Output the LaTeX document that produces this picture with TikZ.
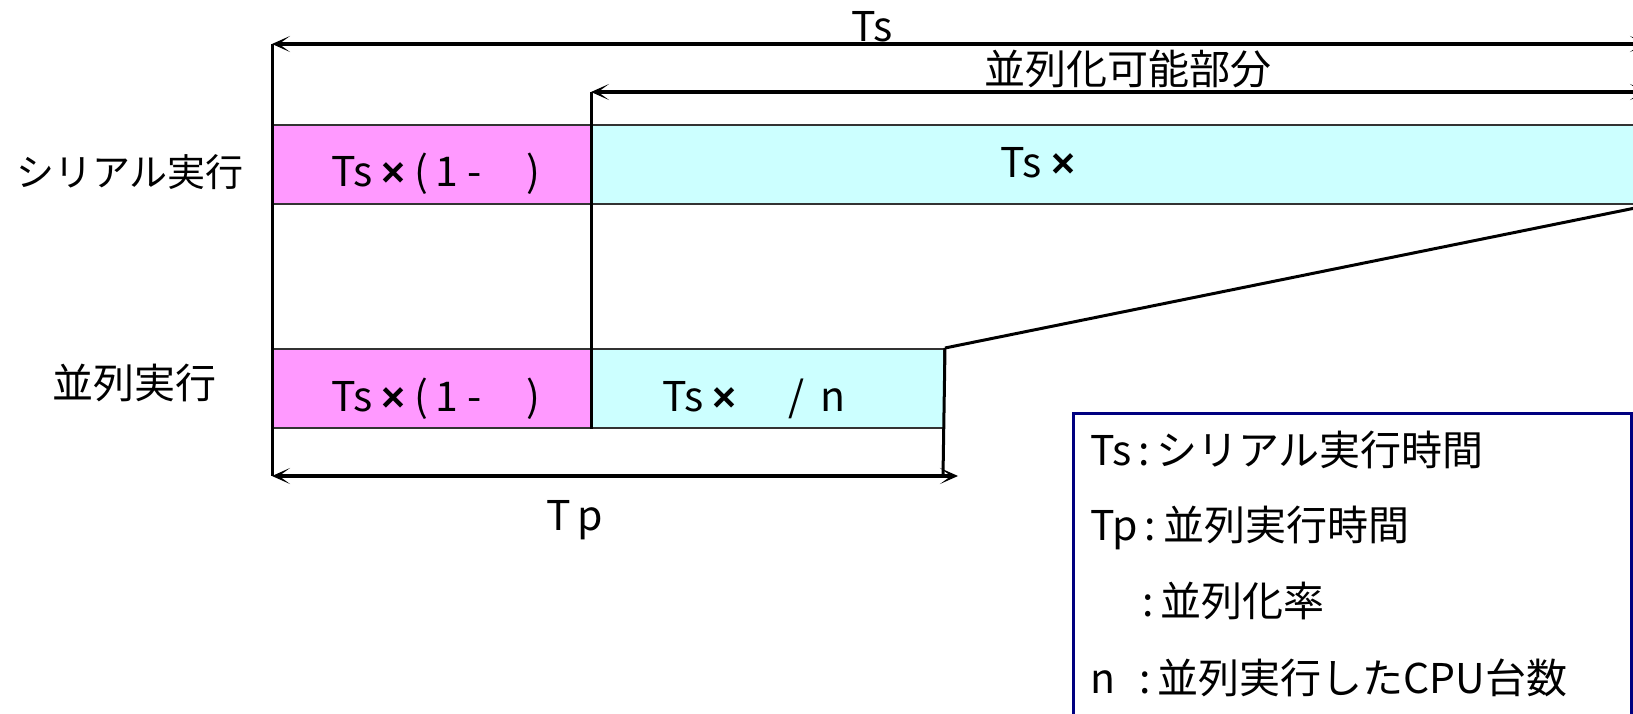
\documentclass[tikz,border=0pt]{standalone}
\usepackage{fontspec}
\setmainfont{Noto Sans CJK JP}
\newfontfamily\timesfont{Liberation Sans}
\newcommand{\mul}{{\timesfont\bfseries ×}}
\usetikzlibrary{arrows.meta}
\definecolor{pinkfill}{HTML}{FF99FF}
\definecolor{cyanfill}{HTML}{CCFFFF}
\definecolor{boxline}{HTML}{333333}
\definecolor{navy}{HTML}{000080}
\tikzset{
  every node/.style={font=\fontsize{41}{49}\selectfont, inner sep=0pt},
  segbox/.style={draw=boxline, line width=2pt, anchor=north west, minimum height=79pt},
  pinkseg/.style={segbox, fill=pinkfill},
  cyanseg/.style={segbox, fill=cyanfill},
  dimarrow/.style={line width=4.5pt, {Stealth[length=18pt,width=16pt,inset=11pt]}-{Stealth[length=18pt,width=16pt,inset=11pt]}},
  guide/.style={line width=3pt},
  lbl/.style={anchor=base},
  legendtext/.style={anchor=base west}
}
\begin{document}
\begin{tikzpicture}[x=1pt,y=-1pt]
\useasboundingbox (0,0) rectangle (1633,714);
\clip (0,0) rectangle (1633,714);
\fill[white] (0,0) rectangle (1633,714);

% segments
\node[pinkseg, minimum width=319pt] (sp) at (272,124) {};
\node[cyanseg, minimum width=1057pt] (sc) at (591,124) {};
\node[pinkseg, minimum width=319pt] (pp) at (272,348) {};
\node[cyanseg, minimum width=352pt] (pc) at (591,348) {};

% reference coordinates
\coordinate (tsL) at (272,44);
\coordinate (tsR) at (1648,44);
\coordinate (paL) at (591,92);
\coordinate (paR) at (1648,92);
\coordinate (tpL) at (272,476);
\coordinate (tpR) at (958,476);
\coordinate (tpV) at (943,476);

% guide lines
\draw[guide] (tsL) -- (tpL);
\draw[guide] (paL) -- (pc.south west);
\draw[guide] (pc.north east) -- (tpV);
\draw[guide] (pc.north east) -- (sc.south east);

% dimension arrows
\draw[dimarrow] (tsL) -- (tsR);
\draw[dimarrow] (paL) -- (paR);
\draw[dimarrow] (tpL) -- (tpR);

% labels
\node[lbl] (tslbl) at (872,42) {Ts};
\node[lbl] (palbl) at (1128,85) {並列化可能部分};
\node[lbl] (tplbl) at (575,530) {T\,p};
\node[lbl, font=\fontsize{38}{46}\selectfont] (serlbl) at (130,187) {シリアル実行};
\node[lbl] (parlbl) at (134,398) {並列実行};

\node[lbl] (sptxt) at (436,187) {Ts \mul\ (\,1 -\hspace{45pt})};
\node[lbl] (sctxt) at (1038,178) {Ts \mul};
\node[lbl] (pptxt) at (436,411) {Ts \mul\ (\,1 -\hspace{45pt})};
\node[lbl] (pctxt) at (754,411) {Ts \mul\hspace{52pt}/ \,n};

% legend
\node[draw=navy, line width=2.5pt, anchor=north west, minimum width=558pt, minimum height=330pt] (legend) at (1072,412) {};
\node[legendtext] (lg1) at (1090,465) {Ts\,:\,シリアル実行時間};
\node[legendtext] (lg2) at (1090,540) {Tp\,:\,並列実行時間};
\node[legendtext] (lg3) at (1090,616) {\hspace{52pt}:\,並列化率};
\node[legendtext] (lg4) at (1090,693) {n\hspace{24pt}:\,並列実行したCPU台数};
\end{tikzpicture}
\end{document}
